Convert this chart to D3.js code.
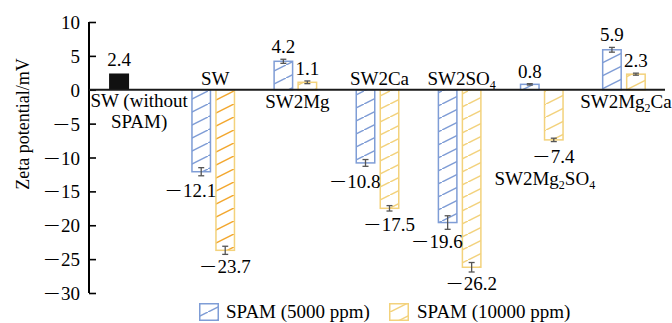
<!DOCTYPE html>
<html>
<head>
<meta charset="utf-8">
<script src="https://cdn.jsdelivr.net/npm/d3@7"></script>
<style>
  html, body { margin: 0; padding: 0; background: #fff; }
  svg { display: block; font-family: "Liberation Serif", "Times New Roman", serif; }
</style>
</head>
<body>
<svg id="chart" width="672" height="323"></svg>
<script>
// categories along the x axis ("_" marks a subscript character)
const categories = ["SW (without SPAM)", "SW", "SW2Mg", "SW2Ca", "SW2SO_4", "SW2Mg_2SO_4", "SW2Mg_2Ca"];
const seriesNames = ["SPAM (5000 ppm)", "SPAM (10000 ppm)"];

// reference bar, SW without SPAM
const baseValue = 2.4;
const baseError = 0.15;

// zeta potential, mV
const spam5000 = [null, -12.1, 4.2, -10.8, -19.6, 0.8, 5.9];
const spam10000 = [null, -23.7, 1.1, -17.5, -26.2, -7.4, 2.3];
const err5000 = [null, 0.6, 0.3, 0.5, 1.0, 0.1, 0.35];
const err10000 = [null, 0.6, 0.2, 0.4, 0.7, 0.25, 0.15];

const yTicks = [10, 5, 0, -5, -10, -15, -20, -25, -30];

const svg = d3.select("#chart");

const blue = "#7f9dd6", yellow = "#f3d27c", orange = "#f3a72e", errColor = "#555";

const x = d3.scaleBand().domain(categories).range([90, 665]).padding(0);
const x1 = d3.scaleBand().domain(seriesNames).range([-22, 22]).paddingInner(1 / 6);
const y = d3.scaleLinear().domain([-30, 10]).range([293, 22]);

// hatch patterns
const defs = svg.append("defs");
function hatch(id, color) {
  const p = defs.append("pattern").attr("id", id)
    .attr("patternUnits", "userSpaceOnUse")
    .attr("width", 26).attr("height", 13);
  p.append("rect").attr("width", 26).attr("height", 13).attr("fill", "#fff");
  p.append("path").attr("d", "M-4,15 L30,-2")
    .attr("stroke", color).attr("stroke-width", 1.5).attr("fill", "none");
}
hatch("h-blue", blue);
hatch("h-yellow", yellow);
hatch("h-orange", orange);

// SW 10000 ppm bar uses darker hatch lines
const hatchFor = (s, cat) => s === 0 ? "url(#h-blue)" : (cat === "SW" ? "url(#h-orange)" : "url(#h-yellow)");

// number with the long minus of the original, anchor = start|middle|end
function signed(g, tx, ty, anchor, v, digits, size) {
  const num = digits == null ? String(Math.abs(v)) : Math.abs(v).toFixed(digits);
  const t = g.append("text").attr("y", ty).attr("font-size", size).text(num);
  if (v >= 0) {
    t.attr("x", tx).attr("text-anchor", anchor);
    return;
  }
  const nw = t.node().getComputedTextLength();
  const k = 1.55;
  const m = g.append("text").attr("font-size", size).attr("text-anchor", "start").text("\u2212");
  const mw = m.node().getComputedTextLength() * k, gap = 1;
  const total = mw + gap + nw;
  const left = anchor === "end" ? tx - total : anchor === "middle" ? tx - total / 2 : tx;
  t.attr("x", left + mw + gap).attr("text-anchor", "start");
  m.attr("transform", `translate(${left},${ty}) scale(${k},1)`);
}

// axis
const yAxis = d3.axisLeft(y).tickValues(yTicks).tickSize(0).tickPadding(0).tickFormat("");
const gy = svg.append("g").attr("transform", "translate(89,0)").call(yAxis)
  .attr("font-family", null).attr("font-size", null).attr("text-anchor", null);
gy.select(".domain").remove();
gy.selectAll(".tick text").remove();
gy.selectAll(".tick").each(function (d) {
  const t = d3.select(this);
  t.append("line").attr("x1", 0).attr("x2", 7).attr("stroke", "#000").attr("stroke-width", 1.6);
  const g = t.append("g").attr("fill", "#000");
  signed(g, -9, 6.5, "end", d, null, 19);
});
svg.append("line").attr("x1", 89).attr("x2", 89).attr("y1", y(10)).attr("y2", y(-30))
  .attr("stroke", "#000").attr("stroke-width", 2);

svg.append("text")
  .attr("transform", `translate(29,124) rotate(-90)`)
  .attr("text-anchor", "middle").attr("font-size", 18)
  .text("Zeta potential/mV");

// bars data
const bars = [];
categories.forEach((c, i) => {
  if (spam5000[i] != null) bars.push({ cat: c, s: 0, v: spam5000[i], e: err5000[i] });
  if (spam10000[i] != null) bars.push({ cat: c, s: 1, v: spam10000[i], e: err10000[i] });
});
const barX = d => x(d.cat) + x.bandwidth() / 2 + x1(seriesNames[d.s]);
const bw = x1.bandwidth();

// base (black) bar in first group, left slot
const baseX = x(categories[0]) + x.bandwidth() / 2 + x1(seriesNames[0]);
svg.append("rect")
  .attr("x", baseX).attr("width", bw)
  .attr("y", y(baseValue)).attr("height", y(0) - y(baseValue))
  .attr("fill", "#111");

svg.append("g").selectAll("rect").data(bars).join("rect")
  .attr("x", d => barX(d) + 0.75)
  .attr("width", bw - 1.5)
  .attr("y", d => Math.min(y(d.v), y(0)))
  .attr("height", d => Math.abs(y(d.v) - y(0)))
  .attr("fill", d => hatchFor(d.s, d.cat))
  .attr("stroke", d => d.s === 0 ? blue : yellow)
  .attr("stroke-width", 1.5);

// zero line
svg.append("line").attr("x1", 89).attr("x2", 665).attr("y1", y(0)).attr("y2", y(0))
  .attr("stroke", "#1a1a1a").attr("stroke-width", 2);

// error bars
const eb = svg.append("g").attr("stroke", errColor).attr("stroke-width", 1.3);
bars.forEach(d => {
  const cx = barX(d) + bw / 2;
  const y1 = y(d.v - d.e), y2 = y(d.v + d.e);
  eb.append("line").attr("x1", cx).attr("x2", cx).attr("y1", y1).attr("y2", y2);
  eb.append("line").attr("x1", cx - 3).attr("x2", cx + 3).attr("y1", y1).attr("y2", y1);
  eb.append("line").attr("x1", cx - 3).attr("x2", cx + 3).attr("y1", y2).attr("y2", y2);
});

// value labels
const vl = svg.append("g").attr("fill", "#000");
signed(vl, baseX + bw / 2, y(baseValue) - 7, "middle", baseValue, 1, 19);
bars.forEach(d => {
  const cx = barX(d) + bw / 2;
  if (d.v >= 0) signed(vl, cx, y(d.v + d.e) - 6, "middle", d.v, 1, 19);
  else if (d.s === 0) signed(vl, barX(d) + bw + 5, y(d.v) + 25, "end", d.v, 1, 19);
  else signed(vl, cx, y(d.v) + 23, "middle", d.v, 1, 19);
});

// category labels
const cl = svg.append("g").attr("font-size", 19).attr("fill", "#000").attr("text-anchor", "middle");
function richText(sel, s) {
  const parts = s.split(/(_.)/).filter(p => p.length);
  let sub = false;
  parts.forEach(p => {
    if (p[0] === "_") {
      sel.append("tspan").text(p[1]).attr("font-size", 12).attr("dy", 4);
      sub = true;
    } else {
      sel.append("tspan").text(p).attr("dy", sub ? -4 : 0);
      sub = false;
    }
  });
}
const y0 = y(0);
categories.forEach((c, i) => {
  const cx = x(c) + x.bandwidth() / 2;
  if (i === 0) {
    const lx = baseX + bw / 2 + 20;
    const t = cl.append("text").attr("y", y0 + 17);
    t.append("tspan").attr("x", lx).text("SW (without");
    t.append("tspan").attr("x", lx).attr("dy", 21).text("SPAM)");
    return;
  }
  const v1 = spam5000[i], v2 = spam10000[i];
  let ty, tx = cx + 2;
  if (v1 < 0 && v2 < 0) ty = y0 - 5;
  else if (v1 >= 0 && v2 >= 0) ty = y0 + 18;
  else { ty = y(Math.min(v1, v2)) + 45; tx = cx + 3; }
  richText(cl.append("text").attr("x", tx).attr("y", ty), c);
});

// legend
const lg = svg.append("g").attr("font-size", 19);
[[199, 226], [389, 417]].forEach((p, i) => {
  lg.append("rect").attr("x", p[0] + 0.75).attr("y", 303.75).attr("width", 18.5).attr("height", 16.5)
    .attr("fill", i === 0 ? "url(#h-blue)" : "url(#h-yellow)")
    .attr("stroke", i === 0 ? blue : yellow).attr("stroke-width", 1.5);
  lg.append("text").attr("x", p[1]).attr("y", 318).text(seriesNames[i]);
});
</script>
</body>
</html>
